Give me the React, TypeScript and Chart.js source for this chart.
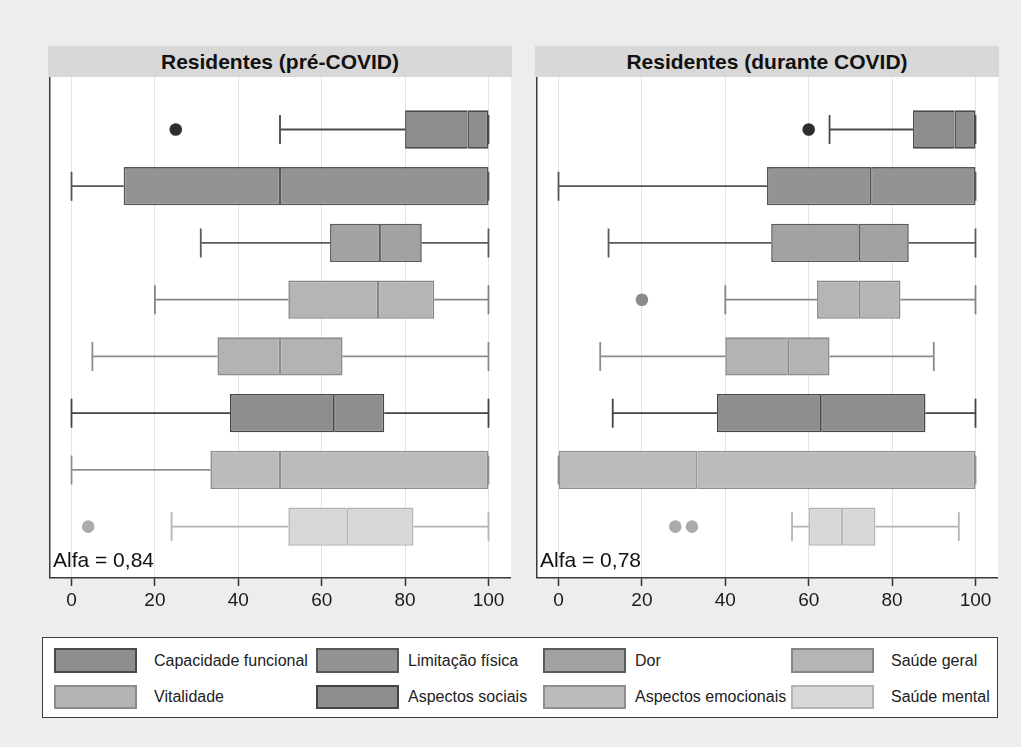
import React, { useEffect, useRef } from "react";
import { Chart, registerables } from "chart.js";

Chart.register(...registerables);

// ---------- data ----------
const categories = [
  "Capacidade funcional",
  "Limitação física",
  "Dor",
  "Saúde geral",
  "Vitalidade",
  "Aspectos sociais",
  "Aspectos emocionais",
  "Saúde mental",
];

const tickValues = [0, 20, 40, 60, 80, 100];

// Residentes (pré-COVID)
const preMin = [50, 0, 31, 20, 5, 0, 0, 24];
const preQ1 = [80, 12.5, 62, 52, 35, 38, 33.3, 52];
const preMedian = [95, 50, 74, 73.5, 50, 63, 50, 66];
const preQ3 = [100, 100, 84, 87, 65, 75, 100, 82];
const preMax = [100, 100, 100, 100, 100, 100, 100, 100];
const preOutliers = [[25], [], [], [], [], [], [], [4]];

// Residentes (durante COVID)
const durMin = [65, 0, 12, 40, 10, 13, 0, 56];
const durQ1 = [85, 50, 51, 62, 40, 38, 0, 60];
const durMedian = [95, 75, 72, 72, 55, 63, 33.3, 68];
const durQ3 = [100, 100, 84, 82, 65, 88, 100, 76];
const durMax = [100, 100, 100, 100, 90, 100, 100, 96];
const durOutliers = [[60], [], [], [20], [], [], [], [28, 32]];

const panelTitles = ["Residentes (pré-COVID)", "Residentes (durante COVID)"];
const alphaLabels = ["Alfa = 0,84", "Alfa = 0,78"];

// ---------- styles ----------
const fillColors = ["#8e8e8e", "#939393", "#a2a2a2", "#b5b5b5", "#b3b3b3", "#8d8d8d", "#bbbbbb", "#d7d7d7"];
const lineColors = ["#4a4a4a", "#565656", "#5c5c5c", "#868686", "#8c8c8c", "#444444", "#8f8f8f", "#b4b4b4"];
const outlierColors = ["#2e2e2e", "#555555", "#666666", "#8a8a8a", "#999999", "#444444", "#999999", "#ababab"];

const FONT = "'Liberation Sans', Arial, Helvetica, sans-serif";

type Panel = {
  min: number[];
  q1: number[];
  med: number[];
  q3: number[];
  max: number[];
  outliers: number[][];
};

const panels: Panel[] = [
  { min: preMin, q1: preQ1, med: preMedian, q3: preQ3, max: preMax, outliers: preOutliers },
  { min: durMin, q1: durQ1, med: durMedian, q3: durQ3, max: durMax, outliers: durOutliers },
];

function BoxPanel({ panel }: { panel: Panel }) {
  const ref = useRef<HTMLCanvasElement | null>(null);

  useEffect(() => {
    if (!ref.current) return;
    const rows = categories.map((_, i) => i + 1);
    const lower = rows.map((r, i) => ({ x: [panel.q1[i], panel.med[i]], y: r }));
    const upper = rows.map((r, i) => ({ x: [panel.med[i], panel.q3[i]], y: r }));
    const outPts: { x: number; y: number }[] = [];
    const outCols: string[] = [];
    panel.outliers.forEach((vals, i) =>
      vals.forEach((v) => {
        outPts.push({ x: v, y: i + 1 });
        outCols.push(outlierColors[i]);
      })
    );

    const capHalf = 0.255;

    const whiskerPlugin = {
      id: "whiskers",
      beforeDatasetsDraw(chart: any) {
        const { ctx } = chart;
        const xs = chart.scales.x;
        const ys = chart.scales.y;
        ctx.save();
        ctx.lineWidth = 1.8;
        ctx.lineCap = "butt";
        rows.forEach((r, i) => {
          const yc = ys.getPixelForValue(r);
          const yt = ys.getPixelForValue(r - capHalf);
          const yb = ys.getPixelForValue(r + capHalf);
          const xMin = xs.getPixelForValue(panel.min[i]);
          const xMax = xs.getPixelForValue(panel.max[i]);
          ctx.strokeStyle = lineColors[i];
          ctx.beginPath();
          ctx.moveTo(xMin, yc);
          ctx.lineTo(xs.getPixelForValue(panel.q1[i]), yc);
          ctx.moveTo(xs.getPixelForValue(panel.q3[i]), yc);
          ctx.lineTo(xMax, yc);
          ctx.moveTo(xMin, yt);
          ctx.lineTo(xMin, yb);
          ctx.moveTo(xMax, yt);
          ctx.lineTo(xMax, yb);
          ctx.stroke();
        });
        ctx.restore();
      },
    };

    const framePlugin = {
      id: "frame",
      beforeDraw(chart: any) {
        const { ctx, chartArea: a } = chart;
        ctx.save();
        ctx.fillStyle = "#ffffff";
        ctx.fillRect(a.left, a.top, a.right - a.left, a.bottom - a.top);
        ctx.restore();
      },
      afterDraw(chart: any) {
        const { ctx, chartArea: a } = chart;
        ctx.save();
        ctx.strokeStyle = "#3a3a3a";
        ctx.lineWidth = 1.5;
        ctx.beginPath();
        ctx.moveTo(a.left + 0.75, a.top);
        ctx.lineTo(a.left + 0.75, a.bottom);
        ctx.stroke();
        ctx.restore();
      },
    };

    const chart = new Chart(ref.current, {
      type: "bar",
      data: {
        datasets: [
          {
            type: "scatter",
            data: outPts,
            pointRadius: 6.3,
            pointHoverRadius: 6.3,
            pointBackgroundColor: outCols,
            pointBorderWidth: 0,
            xAxisID: "x",
            yAxisID: "y",
          } as any,
          {
            type: "bar",
            indexAxis: "y",
            data: lower,
            backgroundColor: fillColors,
            borderColor: lineColors,
            borderWidth: { top: 1.6, bottom: 1.6, left: 1.6, right: 1.3 },
            borderSkipped: false,
            barPercentage: 0.746,
            categoryPercentage: 1,
            grouped: false,
            xAxisID: "x",
            yAxisID: "y",
          } as any,
          {
            type: "bar",
            indexAxis: "y",
            data: upper,
            backgroundColor: fillColors,
            borderColor: lineColors,
            borderWidth: { top: 1.6, bottom: 1.6, left: 1.3, right: 1.6 },
            borderSkipped: false,
            barPercentage: 0.746,
            categoryPercentage: 1,
            grouped: false,
            xAxisID: "x",
            yAxisID: "y",
          } as any,
        ],
      },
      options: {
        animation: false,
        responsive: true,
        maintainAspectRatio: false,
        layout: { padding: 0, autoPadding: false },
        plugins: { legend: { display: false }, tooltip: { enabled: false } },
        scales: {
          x: {
            type: "linear",
            position: "bottom",
            offset: false,
            min: -5.4,
            max: 105.4,
            afterBuildTicks: (s: any) => {
              s.ticks = tickValues.map((v) => ({ value: v }));
            },
            afterFit: (s: any) => {
              s.height = 40;
            },
            grid: {
              offset: false,
              color: "#e3e3e3",
              lineWidth: 1,
              drawTicks: true,
              tickLength: 8,
              tickColor: "#333333",
              tickWidth: 1.5,
            },
            border: { display: true, color: "#3a3a3a", width: 1.5 },
            ticks: {
              color: "#1a1a1a",
              font: { family: FONT, size: 19 },
              padding: 3,
              maxRotation: 0,
              autoSkip: false,
              callback: (v: any) => String(v),
            },
          },
          y: {
            type: "linear",
            offset: false,
            min: 0.075,
            max: 8.905,
            reverse: true,
            display: false,
          },
        },
      } as any,
      plugins: [framePlugin, whiskerPlugin],
    });
    return () => chart.destroy();
  }, [panel]);

  return <canvas ref={ref} />;
}

export default function App() {
  const panelLefts = [49, 536];
  const legendCols = [
    { sw: 54, tx: 154 },
    { sw: 316, tx: 408 },
    { sw: 543, tx: 635 },
    { sw: 791, tx: 891 },
  ];
  const legendRows = [
    { top: 648, h: 25, cy: 661 },
    { top: 685, h: 24, cy: 697 },
  ];
  return (
    <div
      style={{
        position: "absolute",
        left: 0,
        top: 0,
        width: 1021,
        height: 747,
        background: "#ededed",
        overflow: "hidden",
        fontFamily: FONT,
      }}
    >
      {panels.map((p, k) => (
        <React.Fragment key={k}>
          <div
            style={{
              position: "absolute",
              left: panelLefts[k] - 1,
              top: 46,
              width: 464,
              height: 31,
              background: "#d8d8d8",
              color: "#111",
              fontWeight: "bold",
              fontSize: 21,
              lineHeight: "31px",
              textAlign: "center",
            }}
          >
            {panelTitles[k]}
          </div>
          <div style={{ position: "absolute", left: panelLefts[k], top: 77, width: 462, height: 541 }}>
            <BoxPanel panel={p} />
          </div>
          <div
            style={{
              position: "absolute",
              left: panelLefts[k] + 4,
              top: 548,
              fontSize: 21,
              lineHeight: "24px",
              color: "#111",
              whiteSpace: "nowrap",
            }}
          >
            {alphaLabels[k]}
          </div>
        </React.Fragment>
      ))}

      <div
        style={{
          position: "absolute",
          left: 42,
          top: 637,
          width: 956,
          height: 81,
          boxSizing: "border-box",
          border: "1.5px solid #3c3c3c",
          background: "#ffffff",
        }}
      />
      {categories.map((c, i) => {
        const col = legendCols[i % 4];
        const row = legendRows[Math.floor(i / 4)];
        return (
          <React.Fragment key={c}>
            <div
              style={{
                position: "absolute",
                left: col.sw,
                top: row.top,
                width: 83,
                height: row.h,
                boxSizing: "border-box",
                background: fillColors[i],
                border: `2px solid ${lineColors[i]}`,
              }}
            />
            <div
              style={{
                position: "absolute",
                left: col.tx,
                top: row.cy - 10,
                fontSize: 16,
                lineHeight: "20px",
                color: "#222",
                whiteSpace: "nowrap",
              }}
            >
              {c}
            </div>
          </React.Fragment>
        );
      })}
    </div>
  );
}
